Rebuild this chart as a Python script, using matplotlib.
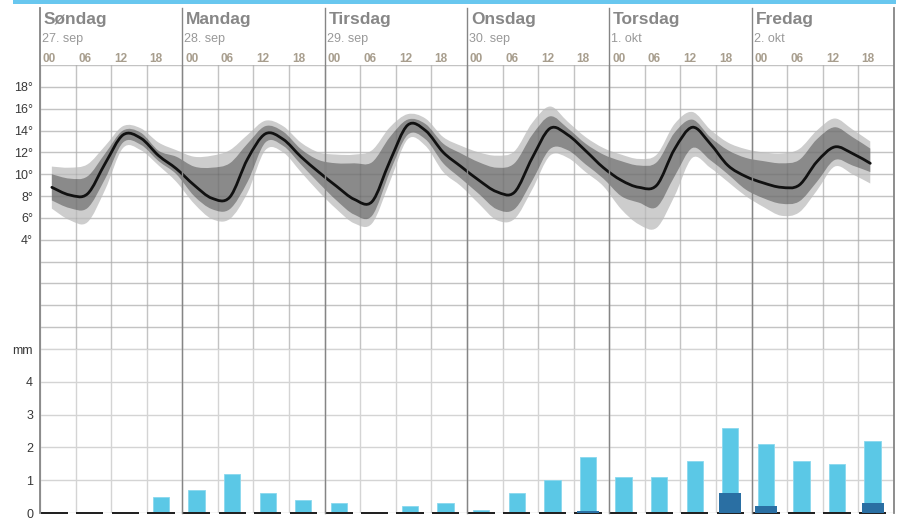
import matplotlib
matplotlib.use("Agg")
import matplotlib.pyplot as plt
import matplotlib.transforms as mtransforms
from matplotlib.patches import Rectangle, PathPatch
from matplotlib.path import Path
import numpy as np

plt.rcParams['font.family'] = ['Liberation Sans', 'DejaVu Sans']

# --- data -----------------------------------------------------------------------------------------------------------

day_names = ['Søndag', 'Mandag', 'Tirsdag', 'Onsdag', 'Torsdag', 'Fredag']
day_dates = ['27. sep', '28. sep', '29. sep', '30. sep', '1. okt', '2. okt']
hour_labels = ['00', '06', '12', '18']

# hours since Sunday 00, every third hour
hours = list(range(2, 141, 3))

temp_median = [8.8, 8.1, 8.2, 11.0, 13.6, 13.3, 11.7, 10.5, 9.0, 7.8, 7.9, 11.4, 13.7, 13.2, 11.6, 10.2,
               8.9, 7.7, 7.5, 11.2, 14.5, 14.0, 12.0, 10.7, 9.45, 8.4, 8.35, 11.5, 14.2, 13.6, 12.15, 10.6,
               9.45, 8.8, 9.0, 12.3, 14.3, 12.8, 10.8, 9.8, 9.2, 8.8, 9.0, 11.15, 12.5, 11.9, 11.0]

temp_inner_hi = [10.0, 9.6, 9.8, 11.9, 14.0, 13.8, 12.15, 11.6, 10.7, 10.6, 11.0, 12.8, 14.4, 13.9, 12.3, 11.3,
                 11.0, 11.0, 11.1, 13.4, 15.0, 14.6, 12.8, 11.9, 11.1, 10.6, 11.0, 13.6, 15.3, 14.2, 12.8, 11.8,
                 11.2, 10.8, 11.1, 13.8, 15.0, 13.4, 12.2, 11.5, 11.2, 11.0, 11.3, 13.2, 14.3, 13.4, 12.35]

temp_inner_lo = [7.6, 6.9, 6.9, 9.6, 12.9, 12.7, 11.2, 10.0, 8.0, 6.8, 6.8, 9.3, 12.9, 12.6, 10.9, 9.2,
                 7.6, 6.3, 6.2, 10.2, 13.6, 13.2, 11.0, 9.6, 8.2, 6.8, 6.8, 9.4, 12.3, 12.2, 10.9, 9.6,
                 8.0, 7.4, 7.0, 9.8, 12.4, 11.3, 10.0, 8.6, 7.8, 7.3, 7.5, 9.3, 11.3, 10.8, 10.2]

temp_outer_hi = [10.7, 10.6, 10.9, 12.6, 14.4, 14.2, 12.9, 12.2, 11.6, 11.7, 12.2, 13.6, 14.9, 14.4, 12.9, 12.0,
                 11.8, 11.8, 12.2, 14.3, 15.5, 15.1, 13.4, 12.6, 12.0, 11.7, 12.1, 14.7, 16.2, 14.8, 13.4, 12.4,
                 11.8, 11.4, 11.8, 14.6, 15.7, 14.1, 12.9, 12.3, 12.0, 11.9, 12.3, 14.0, 15.1, 14.1, 13.0]

temp_outer_lo = [6.85, 5.8, 5.6, 8.6, 12.4, 12.2, 10.8, 9.3, 7.3, 5.9, 5.9, 8.3, 12.2, 12.0, 10.2, 8.4,
                 6.8, 5.5, 5.5, 9.3, 13.2, 12.6, 10.2, 8.9, 7.3, 5.8, 5.9, 8.6, 11.7, 11.5, 10.2, 8.9,
                 6.8, 5.4, 5.1, 8.0, 11.5, 10.6, 9.3, 8.0, 7.0, 6.2, 6.5, 8.5, 10.7, 10.0, 9.15]

# precipitation per 6 hour period (mm)
precip_max = [0, 0, 0, 0.5, 0.7, 1.2, 0.6, 0.4, 0.3, 0, 0.2, 0.3,
              0.1, 0.6, 1.0, 1.7, 1.1, 1.1, 1.6, 2.6, 2.1, 1.6, 1.5, 2.2]
precip_min = [0, 0, 0, 0, 0, 0, 0, 0, 0, 0, 0, 0,
              0, 0, 0, 0.05, 0, 0, 0, 0.6, 0.2, 0, 0, 0.3]


# --- spline helpers -------------------------------------------------------------------------------------------------

def spline_segments(xs, ys):
    """bezier control points for a catmull-rom style curve through the points"""
    pts = np.column_stack([xs, ys]).astype(float)
    padded = np.vstack([pts[0], pts, pts[-1]])

    verts, codes = [], []
    for i in range(len(pts) - 1):
        p0, p1, p2, p3 = padded[i], padded[i + 1], padded[i + 2], padded[i + 3]
        verts += [p1 + (p2 - p0) / 6.0, p2 - (p3 - p1) / 6.0, p2]
        codes += [Path.CURVE4] * 3

    return pts, verts, codes


def spline_line(xs, ys):
    pts, verts, codes = spline_segments(xs, ys)
    return Path([pts[0]] + verts, [Path.MOVETO] + codes)


def spline_band(xs, lo, hi):
    top, top_verts, top_codes = spline_segments(xs, hi)
    bottom, bottom_verts, bottom_codes = spline_segments(xs[::-1], lo[::-1])

    verts = [top[0]] + top_verts + [bottom[0]] + bottom_verts + [top[0]]
    codes = [Path.MOVETO] + top_codes + [Path.LINETO] + bottom_codes + [Path.CLOSEPOLY]
    return Path(verts, codes)


# --- layout ---------------------------------------------------------------------------------------------------------

W, H = 904, 527
LEFT, RIGHT = 40, 894
T_TOP, T_BOTTOM = 65, 349
P_BOTTOM = 513

GRID = '#d4d4d4'
DAY_LINE = '#858585'
TICK_TEXT = '#383838'

fig = plt.figure(figsize=(W / 100, H / 100), dpi=100)
fig.patch.set_facecolor('white')

ax_t = fig.add_axes([LEFT / W, (H - T_BOTTOM) / H, (RIGHT - LEFT) / W, (T_BOTTOM - T_TOP) / H])
ax_p = fig.add_axes([LEFT / W, (H - P_BOTTOM) / H, (RIGHT - LEFT) / W, (P_BOTTOM - T_BOTTOM) / H])

for ax in (ax_t, ax_p):
    ax.set_xlim(0, 144)
    ax.set_xticks(range(0, 145, 6))
    ax.set_xticklabels([])
    ax.tick_params(length=0, pad=5, labelsize=9, labelcolor=TICK_TEXT)
    ax.grid(True, color=GRID, linewidth=1.0, zorder=0)
    ax.set_axisbelow(True)
    for spine in ax.spines.values():
        spine.set_visible(False)
    ax.set_facecolor('none')

# temperature...
ax_t.set_ylim(-6, 20)
t_ticks = list(range(-6, 21, 2))
ax_t.set_yticks(t_ticks)
ax_t.set_yticklabels(['%d°' % t if 4 <= t <= 18 else '' for t in t_ticks])

x_t = np.array(hours, dtype=float)
ax_t.add_patch(PathPatch(spline_band(x_t, np.array(temp_outer_lo), np.array(temp_outer_hi)),
                         facecolor='#cdcdcd', edgecolor='none', zorder=1))
ax_t.add_patch(PathPatch(spline_band(x_t, np.array(temp_inner_lo), np.array(temp_inner_hi)),
                         facecolor='#8a8a8a', edgecolor='none', zorder=1.5))

# grid shows faintly through the bands
for t in t_ticks:
    ax_t.axhline(t, color='black', alpha=0.08, linewidth=1.0, zorder=1.8)
for h in range(6, 144, 6):
    ax_t.axvline(h, color='black', alpha=0.08, linewidth=1.0, zorder=1.8)

ax_t.add_patch(PathPatch(spline_line(x_t, np.array(temp_median)), facecolor='none', edgecolor='#111111',
                         linewidth=2.0, capstyle='round', joinstyle='round', zorder=3))

# precipitation...
ax_p.set_ylim(0, 5)
ax_p.set_yticks(range(0, 6))
ax_p.set_yticklabels(['0', '1', '2', '3', '4', 'mm'])

period_x = np.arange(len(precip_max)) * 6 + 2.4
ax_p.bar(period_x, precip_max, width=2.75, color='#5bc8e6', edgecolor='#8ad8ee', linewidth=0.6, zorder=3)
ax_p.bar(period_x, [0.09] * len(precip_max), bottom=-0.045, width=4.6, color='#222222', linewidth=0,
         zorder=4, clip_on=False)
ax_p.bar(period_x, precip_min, width=3.75, color='#2a6fa3', linewidth=0, zorder=5)

# day separators run up through the header
for d in range(7):
    ax_p.axvline(d * 24, ymin=0, ymax=(P_BOTTOM - 8) / (P_BOTTOM - T_BOTTOM), color=DAY_LINE,
                 linewidth=1.3 if d in (0, 6) else 1.0, clip_on=False, zorder=6)

# header...
head = mtransforms.blended_transform_factory(ax_t.transData, fig.transFigure)

for d, (name, date) in enumerate(zip(day_names, day_dates)):
    x0 = d * 24
    fig.text(x0 + 0.65, 1 - 24 / H, name, transform=head, fontsize=12.5, fontweight='bold',
             color='#878787', ha='left', va='baseline')
    fig.text(x0 + 0.35, 1 - 42 / H, date, transform=head, fontsize=9, color='#999999',
             ha='left', va='baseline')
    for i, label in enumerate(hour_labels):
        fig.text(x0 + i * 6 + 0.5, 1 - 62 / H, label, transform=head, fontsize=8.5, fontweight='bold',
                 color='#a89e8e', ha='left', va='baseline')

fig.add_artist(Rectangle((13 / W, 1 - 4 / H), (896 - 13) / W, 4 / H, transform=fig.transFigure,
                         color='#68c7ef', linewidth=0))

fig.savefig('out.png', dpi=100)
